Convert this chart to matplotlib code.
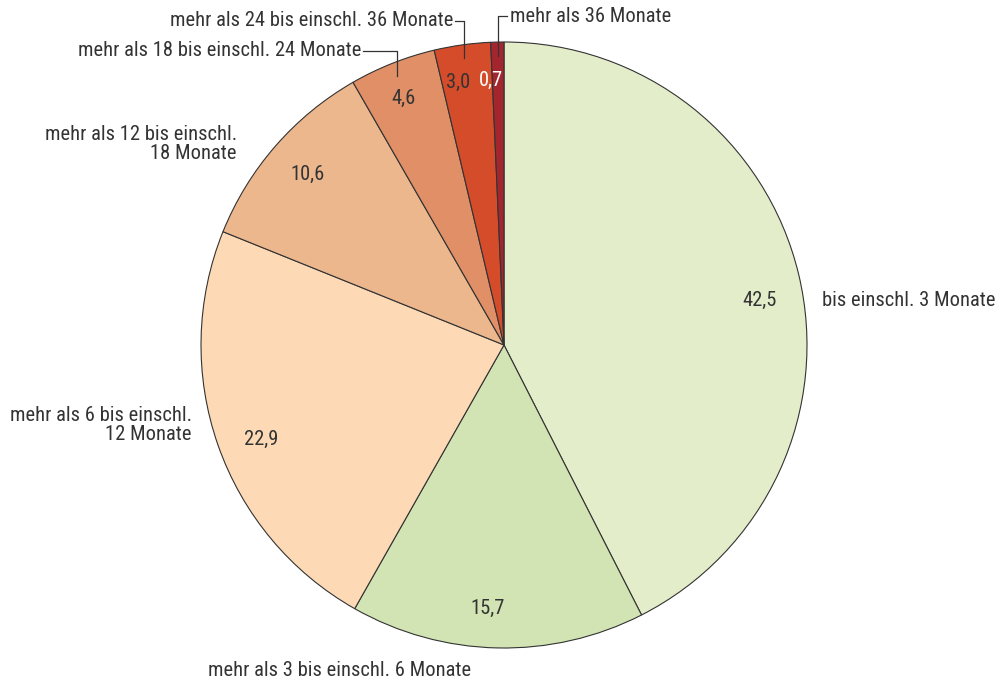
import numpy as np
import matplotlib
matplotlib.use("Agg")
import matplotlib.pyplot as plt

# ── data ───────────────────────────────────────────────────────────────────────
categories = [
    "bis einschl. 3 Monate",
    "mehr als 3 bis einschl. 6 Monate",
    "mehr als 6 bis einschl.\n12 Monate",
    "mehr als 12 bis einschl.\n18 Monate",
    "mehr als 18 bis einschl. 24 Monate",
    "mehr als 24 bis einschl. 36 Monate",
    "mehr als 36 Monate",
]
values = [42.5, 15.7, 22.9, 10.6, 4.6, 3.0, 0.7]
colors = ["#E4EDCA", "#D2E4B3", "#FDDAB5", "#EDB78E", "#E08F66", "#D54C2B", "#A3262F"]
value_colors = ["#333333"] * 6 + ["white"]

# ── layout (pixels) ────────────────────────────────────────────────────────────
W, H = 998, 684
CX, CY = 504, H - 345
R = 303
TXT = "#333333"
FS = 14.8

plt.rcParams["font.family"] = ["Liberation Sans Narrow", "Roboto Condensed",
                               "Archivo Narrow", "DejaVu Sans"]

fig = plt.figure(figsize=(W / 100, H / 100), dpi=100)
ax = fig.add_axes([0, 0, 1, 1])

wedges, _ = ax.pie(values, colors=colors, startangle=90, counterclock=False,
                   radius=R, center=(CX, CY),
                   wedgeprops=dict(edgecolor="#333333", linewidth=0.8))
ax.set_xlim(0, W)
ax.set_ylim(0, H)
ax.set_axis_off()


def polar(ang, r):
    a = np.deg2rad(ang)
    return CX + r * np.cos(a), CY + r * np.sin(a)


# value labels inside the slices
val_shift = [-3.5, -2.4, 2.0, 0, 0.6, 2.0, 1.5]
val_rad = [0.855, 0.87, 0.86, 0.86, 0.88, 0.88, 0.875]
for w, v, c, sh, rf in zip(wedges, values, value_colors, val_shift, val_rad):
    mid = (w.theta1 + w.theta2) / 2 + sh
    x, y = polar(mid, rf * R)
    ax.text(x, y, f"{v:.1f}".replace(".", ","), ha="center", va="center",
            fontsize=FS, color=c)

# outer labels without leader lines
ax.text(822, H - 301, categories[0], ha="left", va="center", fontsize=FS, color=TXT)
ax.text(340, H - 670, categories[1], ha="center", va="center", fontsize=FS, color=TXT)
ax.text(192, H - 425, categories[2], ha="right", va="center", fontsize=FS,
        color=TXT, linespacing=1.0, multialignment="right")
ax.text(237, H - 144, categories[3], ha="right", va="center", fontsize=FS,
        color=TXT, linespacing=1.0, multialignment="right")

# outer labels with leader lines (small slices at the top)
lead_y = [H - 51, H - 21, H - 16]
lead_dx = [-34, -9, 9]
for w, lab, ly, dx in zip(wedges[4:], categories[4:], lead_y, lead_dx):
    mid = (w.theta1 + w.theta2) / 2
    x0, y0 = polar(mid, 0.955 * R)
    x1 = x0 + dx
    ax.plot([x0, x0, x1], [y0, ly, ly], color="#333333", linewidth=0.9)
    ha = "left" if dx > 0 else "right"
    off = 3 if dx > 0 else -2
    ax.text(x1 + off, ly, lab, ha=ha, va="center", fontsize=FS, color=TXT)

fig.savefig("out.png", dpi=100)
